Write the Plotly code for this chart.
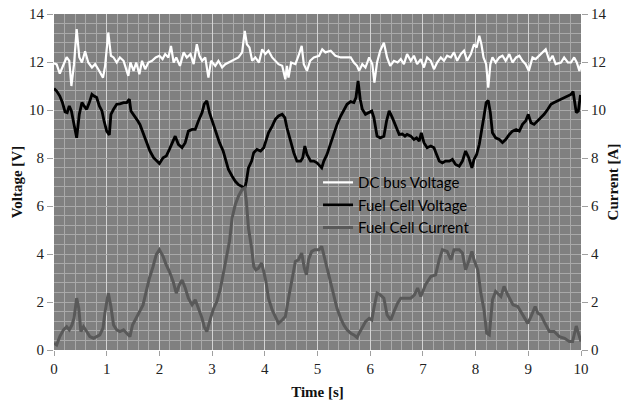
import plotly.graph_objects as go

# DC bus voltage (white)
t_dc = [0.00, 0.05, 0.11, 0.18, 0.24, 0.29, 0.33, 0.38, 0.43, 0.48, 0.53, 0.59, 0.65, 0.72, 0.78,
        0.84, 0.93, 0.97, 1.03, 1.08, 1.13, 1.19, 1.25, 1.32, 1.41, 1.45, 1.51, 1.56, 1.62, 1.67,
        1.73, 1.79, 1.86, 1.93, 2.00, 2.06, 2.11, 2.17, 2.22, 2.27, 2.32, 2.39, 2.46, 2.52, 2.59,
        2.65, 2.71, 2.76, 2.81, 2.87, 2.93, 2.98, 3.06, 3.12, 3.19, 3.25, 3.38, 3.50, 3.57, 3.62,
        3.66, 3.71, 3.76, 3.82, 3.89, 3.95, 4.01, 4.07, 4.14, 4.20, 4.26, 4.33, 4.39, 4.42, 4.45,
        4.50, 4.58, 4.64, 4.70, 4.74, 4.80, 4.86, 4.93, 5.03, 5.09, 5.15, 5.25, 5.34, 5.44, 5.53,
        5.63, 5.69, 5.75, 5.79, 5.85, 5.91, 5.98, 6.04, 6.08, 6.13, 6.19, 6.26, 6.32, 6.38, 6.45,
        6.52, 6.58, 6.64, 6.70, 6.77, 6.83, 6.89, 6.96, 7.02, 7.08, 7.15, 7.21, 7.27, 7.34, 7.40,
        7.46, 7.53, 7.59, 7.65, 7.72, 7.78, 7.84, 7.91, 7.97, 8.02, 8.07, 8.11, 8.15, 8.20, 8.24,
        8.28, 8.32, 8.38, 8.45, 8.51, 8.57, 8.64, 8.70, 8.77, 8.83, 8.89, 8.95, 9.01, 9.08, 9.14,
        9.21, 9.27, 9.33, 9.40, 9.46, 9.52, 9.62, 9.68, 9.75, 9.81, 9.87, 9.92, 9.97, 10.00]
v_dc = [11.95, 11.90, 11.52, 11.91, 12.20, 12.05, 11.00, 11.91, 13.37, 12.20, 11.98, 12.45, 11.98, 11.77, 11.91,
        11.70, 11.35, 11.84, 13.23, 12.26, 12.19, 11.98, 12.19, 12.05, 11.42, 11.98, 11.63, 11.98, 11.49, 12.05,
        11.70, 11.98, 12.05, 12.19, 12.26, 12.12, 12.33, 12.19, 12.67, 11.98, 12.19, 11.84, 12.40, 12.19, 12.33,
        11.91, 12.74, 12.26, 12.05, 12.19, 11.35, 12.05, 11.84, 12.05, 11.77, 11.91, 12.05, 12.19, 12.40, 13.30,
        12.74, 12.60, 12.05, 12.19, 11.98, 12.53, 12.33, 12.47, 12.19, 12.05, 11.91, 11.84, 11.28, 11.84, 11.35,
        11.98, 11.91, 12.26, 12.67, 11.91, 11.63, 12.05, 12.19, 12.26, 12.53, 12.40, 12.47, 12.26, 12.19, 12.19,
        12.19, 11.98, 11.84, 11.63, 11.91, 11.77, 12.19, 11.91, 11.14, 11.98, 12.47, 12.80, 12.19, 11.84, 12.05,
        11.98, 12.12, 11.91, 12.33, 12.05, 12.26, 11.91, 12.12, 11.77, 12.19, 12.05, 11.70, 11.98, 12.19, 12.05,
        12.26, 12.19, 12.40, 12.05, 12.33, 12.47, 12.05, 12.33, 12.74, 12.60, 13.09, 12.74, 12.19, 11.91, 10.93,
        11.91, 12.19, 11.98, 12.19, 12.26, 12.05, 12.33, 11.98, 12.19, 12.26, 12.05, 11.91, 11.63, 12.19, 12.12,
        12.26, 12.40, 12.53, 12.05, 12.26, 11.91, 11.98, 12.19, 11.98, 11.98, 12.19, 11.98, 11.63, 11.91]

# Fuel cell voltage (black)
t_fcv = [0.00, 0.05, 0.11, 0.16, 0.21, 0.25, 0.29, 0.33, 0.38, 0.43, 0.48, 0.53, 0.57, 0.62, 0.67,
         0.72, 0.76, 0.81, 0.86, 0.91, 0.95, 1.00, 1.05, 1.08, 1.13, 1.19, 1.25, 1.32, 1.38, 1.43,
         1.46, 1.51, 1.57, 1.63, 1.70, 1.76, 1.82, 1.89, 1.95, 2.00, 2.07, 2.13, 2.19, 2.26, 2.30,
         2.36, 2.43, 2.49, 2.55, 2.62, 2.68, 2.74, 2.81, 2.85, 2.90, 2.95, 3.02, 3.08, 3.14, 3.21,
         3.25, 3.31, 3.38, 3.44, 3.50, 3.57, 3.62, 3.65, 3.69, 3.75, 3.79, 3.85, 3.92, 3.98, 4.02,
         4.07, 4.14, 4.20, 4.26, 4.33, 4.38, 4.42, 4.49, 4.55, 4.61, 4.68, 4.72, 4.76, 4.80, 4.87,
         4.93, 4.99, 5.08, 5.12, 5.18, 5.25, 5.31, 5.37, 5.44, 5.50, 5.56, 5.63, 5.69, 5.73, 5.77,
         5.81, 5.85, 5.91, 5.98, 6.03, 6.07, 6.13, 6.19, 6.26, 6.31, 6.36, 6.42, 6.48, 6.55, 6.61,
         6.66, 6.70, 6.77, 6.83, 6.88, 6.93, 6.97, 7.02, 7.08, 7.15, 7.21, 7.26, 7.31, 7.37, 7.43,
         7.50, 7.56, 7.62, 7.69, 7.75, 7.81, 7.87, 7.93, 7.97, 8.02, 8.07, 8.11, 8.16, 8.20, 8.24,
         8.28, 8.32, 8.38, 8.45, 8.51, 8.57, 8.64, 8.70, 8.77, 8.83, 8.89, 8.95, 9.00, 9.05, 9.11,
         9.18, 9.24, 9.30, 9.37, 9.43, 9.49, 9.56, 9.62, 9.68, 9.75, 9.81, 9.85, 9.88, 9.91, 9.95,
         9.99]
v_fcv = [10.90, 10.79, 10.58, 10.31, 9.92, 9.89, 10.17, 9.96, 9.40, 8.84, 9.82, 10.31, 10.17, 10.03, 10.31,
         10.65, 10.58, 10.52, 10.17, 9.96, 9.54, 9.12, 8.96, 9.82, 10.03, 10.24, 10.26, 10.31, 10.31, 10.45,
         9.96, 9.82, 9.61, 9.40, 8.98, 8.64, 8.29, 8.01, 7.87, 7.77, 8.01, 8.08, 8.36, 8.70, 8.91,
         8.57, 8.43, 8.64, 9.12, 9.19, 9.19, 9.54, 9.89, 10.24, 10.38, 9.89, 9.40, 8.98, 8.64, 8.29,
         8.01, 7.52, 7.24, 7.03, 6.89, 6.82, 6.75, 7.03, 7.59, 7.87, 8.22, 8.36, 8.29, 8.43, 8.70,
         9.05, 9.33, 9.61, 9.75, 9.82, 9.68, 9.26, 8.70, 8.22, 7.87, 7.87, 8.01, 8.50, 8.15, 7.87,
         7.87, 7.80, 7.59, 7.87, 8.15, 8.64, 9.05, 9.40, 9.75, 10.03, 10.24, 10.35, 10.31, 10.52, 11.21,
         10.45, 10.03, 9.82, 9.89, 9.96, 9.68, 8.91, 8.84, 8.91, 9.54, 9.96, 9.68, 9.33, 8.98, 9.00,
         8.91, 8.98, 8.91, 8.77, 8.84, 8.70, 9.05, 8.64, 8.43, 8.50, 8.43, 8.15, 7.87, 7.80, 7.87,
         7.87, 7.94, 7.73, 7.66, 7.87, 8.29, 8.01, 7.59, 7.94, 8.15, 8.57, 9.05, 9.75, 10.31, 10.40,
         9.89, 9.05, 8.84, 8.77, 8.64, 8.77, 8.98, 9.12, 9.19, 9.12, 9.40, 9.54, 9.82, 9.47, 9.40,
         9.54, 9.68, 9.82, 10.03, 10.24, 10.31, 10.38, 10.45, 10.52, 10.58, 10.65, 10.77, 10.24, 9.89, 9.96,
         10.63]

# Fuel cell current (grey)
t_fci = [0.00, 0.05, 0.11, 0.18, 0.24, 0.29, 0.34, 0.38, 0.43, 0.47, 0.51, 0.56, 0.62, 0.68, 0.75,
         0.81, 0.87, 0.93, 0.97, 1.03, 1.08, 1.13, 1.19, 1.25, 1.32, 1.38, 1.44, 1.49, 1.56, 1.62,
         1.69, 1.75, 1.81, 1.88, 1.94, 2.00, 2.07, 2.13, 2.19, 2.26, 2.32, 2.38, 2.43, 2.49, 2.55,
         2.62, 2.68, 2.74, 2.81, 2.85, 2.90, 2.97, 3.03, 3.09, 3.16, 3.22, 3.28, 3.33, 3.38, 3.44,
         3.50, 3.57, 3.62, 3.65, 3.69, 3.75, 3.79, 3.83, 3.88, 3.94, 3.98, 4.02, 4.07, 4.14, 4.20,
         4.26, 4.33, 4.39, 4.45, 4.52, 4.58, 4.64, 4.70, 4.75, 4.79, 4.83, 4.89, 4.95, 5.03, 5.08,
         5.12, 5.18, 5.25, 5.31, 5.37, 5.44, 5.50, 5.56, 5.63, 5.69, 5.75, 5.79, 5.85, 5.91, 5.98,
         6.03, 6.07, 6.13, 6.19, 6.26, 6.32, 6.39, 6.45, 6.52, 6.58, 6.67, 6.77, 6.84, 6.90, 6.96,
         7.05, 7.15, 7.24, 7.31, 7.37, 7.46, 7.53, 7.59, 7.69, 7.75, 7.81, 7.88, 7.93, 7.97, 8.04,
         8.10, 8.16, 8.21, 8.26, 8.32, 8.38, 8.48, 8.54, 8.61, 8.71, 8.80, 8.89, 8.99, 9.05, 9.13,
         9.18, 9.24, 9.30, 9.40, 9.49, 9.59, 9.69, 9.78, 9.84, 9.91, 9.96, 10.00]
v_fci = [0.28, 0.21, 0.56, 0.84, 0.97, 0.84, 1.04, 1.32, 2.16, 1.74, 0.77, 0.97, 0.77, 0.56, 0.49,
         0.56, 0.63, 0.91, 1.60, 2.37, 1.81, 1.04, 0.84, 0.77, 0.84, 0.70, 0.56, 1.04, 1.32, 1.60,
         1.88, 2.44, 2.99, 3.48, 3.97, 4.18, 3.90, 3.55, 3.27, 2.86, 2.37, 2.72, 2.92, 2.58, 2.16,
         1.88, 2.09, 1.74, 1.32, 0.97, 0.77, 1.32, 1.74, 2.02, 2.58, 3.27, 3.90, 4.53, 5.50, 6.06,
         6.41, 6.69, 6.75, 6.20, 5.08, 4.25, 3.48, 3.34, 3.41, 3.62, 3.27, 2.86, 2.16, 1.67, 1.39,
         1.11, 1.25, 1.39, 2.16, 2.99, 3.69, 3.76, 4.04, 3.41, 3.13, 3.76, 4.11, 4.18, 4.18, 4.32,
         3.97, 3.48, 2.86, 2.30, 1.74, 1.32, 1.04, 0.84, 0.70, 0.63, 0.52, 0.70, 0.97, 1.18, 1.32,
         1.25, 1.74, 2.37, 2.30, 2.16, 1.46, 1.25, 1.60, 1.95, 2.16, 2.16, 2.16, 2.30, 2.58, 2.23,
         2.72, 3.06, 3.13, 3.76, 4.18, 4.11, 3.76, 4.18, 4.18, 4.04, 3.34, 3.76, 4.11, 3.76, 3.34,
         2.37, 1.67, 0.70, 0.63, 2.09, 2.44, 2.23, 2.65, 2.30, 1.88, 1.81, 1.46, 1.11, 1.39, 1.81,
         1.53, 1.46, 1.18, 0.77, 0.77, 0.56, 0.49, 0.35, 0.35, 1.00, 0.63, 0.35]

x_ticks = list(range(0, 11))
y_ticks = list(range(0, 15, 2))

serif = "Liberation Serif, Times New Roman, serif"
grid_minor = "#a9a9a9"
grid_major = "#d4d4d4"

fig = go.Figure()
fig.add_trace(go.Scatter(x=t_dc, y=v_dc, name="DC bus Voltage", mode="lines",
                         line=dict(color="#ffffff", width=2.2)))
fig.add_trace(go.Scatter(x=t_fcv, y=v_fcv, name="Fuel Cell Voltage", mode="lines",
                         line=dict(color="#000000", width=2.8)))
fig.add_trace(go.Scatter(x=t_fci, y=v_fci, name="Fuel Cell Current", mode="lines",
                         line=dict(color="#595959", width=3), yaxis="y2"))

fig.update_layout(
    width=621, height=409,
    margin=dict(l=54, r=40, t=14, b=59, autoexpand=False),
    font=dict(family=serif, size=15, color="#222222"),
    paper_bgcolor="#ffffff",
    plot_bgcolor="#808080",
    showlegend=True,
    legend=dict(x=0.501, y=0.547, xanchor="left", yanchor="top",
                bgcolor="rgba(0,0,0,0)", borderwidth=0,
                font=dict(family="Lato", size=15, color="#000000"),
                tracegroupgap=0, itemwidth=30),
    xaxis=dict(range=[0, 10], tickvals=x_ticks, ticktext=[str(v) for v in x_ticks],
               showgrid=True, gridcolor=grid_major, gridwidth=1,
               minor=dict(dtick=0.2, showgrid=True, gridcolor=grid_minor, gridwidth=1),
               ticks="outside", ticklen=5, tickcolor="#a0a0a0",
               showline=False, zeroline=False, automargin=False,
               tickfont=dict(family=serif, size=15, color="#222222"),
               title=dict(text="<b>Time [s]</b>", font=dict(family=serif, size=15, color="#111111"),
                          standoff=10)),
    yaxis=dict(range=[0, 14], tickvals=y_ticks, ticktext=[str(v) for v in y_ticks],
               showgrid=True, gridcolor=grid_minor, gridwidth=1,
               minor=dict(dtick=0.4, showgrid=True, gridcolor=grid_minor, gridwidth=1),
               ticks="outside", ticklen=6, tickcolor="#a0a0a0",
               showline=False, zeroline=False, automargin=False,
               tickfont=dict(family=serif, size=15, color="#222222"),
               title=dict(text="<b>Voltage [V]</b>", font=dict(family=serif, size=15, color="#111111"),
                          standoff=2)),
    yaxis2=dict(range=[0, 14], tickvals=y_ticks, ticktext=[str(v) for v in y_ticks],
                overlaying="y", side="right", showgrid=False, zeroline=False,
                ticks="outside", ticklen=6, tickcolor="#a0a0a0",
                showline=False, automargin=False,
                tickfont=dict(family=serif, size=15, color="#222222"),
                title=dict(text="<b>Current [A]</b>", font=dict(family=serif, size=15, color="#111111"),
                           standoff=2)),
)

fig.write_html("out.html")
